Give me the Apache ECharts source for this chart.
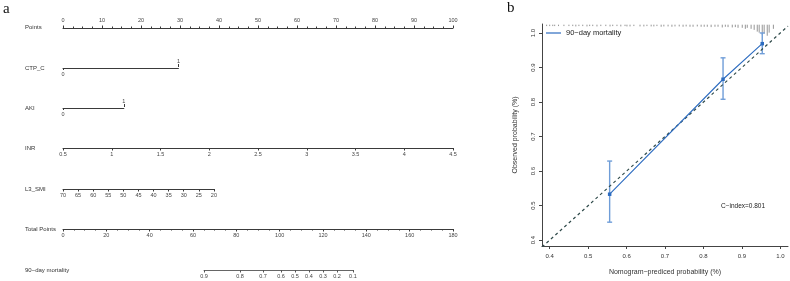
<!DOCTYPE html>
<html>
<head>
<meta charset="utf-8">
<title>Nomogram and calibration</title>
<script src="https://cdn.jsdelivr.net/npm/echarts@6/dist/echarts.min.js"></script>
<style>
    html, body { margin: 0; padding: 0; background: #fff; }
    #chart { width: 790px; height: 281px; }
</style>
</head>
<body>
<div id="chart"></div>
<script>
// ---- panel a: nomogram data ----
const pointsTicks = [0, 10, 20, 30, 40, 50, 60, 70, 80, 90, 100];
const ctpLevels = [0, 1];
const ctpPoints = [0, 29.6];
const akiLevels = [0, 1];
const akiPoints = [0, 15.6];
const inrRange = [0.5, 4.5];
const inrPoints = [0, 100];
const smiRange = [20, 70];
const smiPoints = [0, 38.7];
const totalRange = [0, 180];
const mortTicks = [0.9, 0.8, 0.7, 0.6, 0.5, 0.4, 0.3, 0.2, 0.1];
const mortTotal = [65.1, 81.7, 92.3, 100.6, 107.1, 113.5, 120.0, 126.5, 133.8];

// ---- panel b: calibration data ----
const calTicks = [0.4, 0.5, 0.6, 0.7, 0.8, 0.9, 1.0];
const calPred = [0.556, 0.851, 0.953];
const calObs = [0.533, 0.866, 0.969];
const calLow = [0.452, 0.808, 0.940];
const calHigh = [0.629, 0.928, 1.0];
const rugPred = [0.392, 0.400, 0.408, 0.413, 0.423, 0.437, 0.450, 0.460, 0.468, 0.476,
    0.486, 0.497, 0.504, 0.512, 0.523, 0.533, 0.546, 0.557, 0.564, 0.575,
    0.585, 0.596, 0.601, 0.609, 0.619, 0.635, 0.645, 0.653, 0.664, 0.671,
    0.679, 0.690, 0.697, 0.708, 0.718, 0.726, 0.737, 0.747, 0.755, 0.765,
    0.773, 0.784, 0.794, 0.802, 0.810, 0.820, 0.830, 0.838, 0.849, 0.857,
    0.864, 0.875, 0.883, 0.890, 0.901, 0.909, 0.914, 0.924, 0.932, 0.940,
    0.945, 0.953, 0.958, 0.966, 0.971, 0.982];
const rugHeight = [0.004, 0.004, 0.004, 0.004, 0.004, 0.004, 0.004, 0.004, 0.005, 0.004,
    0.004, 0.005, 0.004, 0.004, 0.005, 0.004, 0.004, 0.005, 0.004, 0.004,
    0.005, 0.004, 0.005, 0.005, 0.004, 0.005, 0.005, 0.004, 0.005, 0.005,
    0.004, 0.006, 0.005, 0.005, 0.006, 0.005, 0.005, 0.006, 0.005, 0.006,
    0.006, 0.005, 0.006, 0.006, 0.006, 0.007, 0.006, 0.006, 0.008, 0.006,
    0.007, 0.008, 0.007, 0.009, 0.009, 0.012, 0.009, 0.012, 0.015, 0.020,
    0.023, 0.029, 0.026, 0.032, 0.023, 0.012];

(function () {
    'use strict';

    const chart = echarts.init(document.getElementById('chart'), null, { renderer: 'canvas' });

    // nomogram layout: points 0..100 span this pixel range
    const X0 = 63;
    const W = 390;
    const ptsPx = p => X0 + p / 100 * W;
    const totPx = t => X0 + t / totalRange[1] * W;

    const axisColor = '#3a3a3a';
    const labelStyle = { fontSize: 5.5, color: '#444', fontFamily: 'Liberation Sans' };

    const grids = [];
    const xAxes = [];
    const yAxes = [];
    const titles = [];

    // add a thin grid with its axis line at lineY
    const addRow = (title, lineY, left, width, axes, axisAtTop) => {
        const idx = grids.length;
        grids.push({ left: left, top: axisAtTop ? lineY : lineY - 1, width: width, height: 1 });
        yAxes.push({ gridIndex: idx, show: false, min: 0, max: 1 });
        axes.forEach(a => xAxes.push(Object.assign({ gridIndex: idx }, a)));
        titles.push({
            type: 'text', left: 25, top: lineY - 3,
            style: { text: title, fontSize: 6, fill: '#333', fontFamily: 'Liberation Sans' }
        });
    };

    const baseAxis = (extra) => Object.assign({
        type: 'value',
        splitLine: { show: false },
        axisLine: { show: true, lineStyle: { color: axisColor, width: 1 } },
        axisTick: { show: true, length: 2.5, lineStyle: { color: axisColor } },
        axisLabel: Object.assign({ margin: 3 }, labelStyle)
    }, extra);

    // Points
    addRow('Points', 27, ptsPx(0), ptsPx(100) - ptsPx(0), [baseAxis({
        position: 'top', min: pointsTicks[0], max: pointsTicks[pointsTicks.length - 1], interval: 10,
        minorTick: { show: true, splitNumber: 4, length: 1.5, lineStyle: { color: axisColor } },
        axisLabel: Object.assign({ margin: 4 }, labelStyle)
    })], true);

    // two-level factor rows: "0" below left end, "1" above right end
    const factorRow = (title, lineY, levels, pts) => {
        addRow(title, lineY, ptsPx(pts[0]), ptsPx(pts[1]) - ptsPx(pts[0]), [
            baseAxis({
                position: 'bottom', min: levels[0], max: levels[1],
                axisTick: { show: true, length: 2, customValues: [levels[0]], lineStyle: { color: axisColor } },
                axisLabel: Object.assign({ margin: 3, customValues: [levels[0]] }, labelStyle)
            }),
            baseAxis({
                position: 'top', min: levels[0], max: levels[1],
                axisLine: { show: false },
                axisTick: { show: true, length: 3, customValues: [levels[1]], lineStyle: { color: axisColor } },
                axisLabel: Object.assign({ margin: 3, customValues: [levels[1]] }, labelStyle)
            })
        ], false);
    };
    factorRow('CTP_C', 68, ctpLevels, ctpPoints);
    factorRow('AKI', 108, akiLevels, akiPoints);

    // INR
    addRow('INR', 148, ptsPx(inrPoints[0]), ptsPx(inrPoints[1]) - ptsPx(inrPoints[0]), [baseAxis({
        min: inrRange[0], max: inrRange[1], interval: 0.5
    })], false);

    // L3_SMI (decreasing)
    addRow('L3_SMI', 189, ptsPx(smiPoints[0]), ptsPx(smiPoints[1]) - ptsPx(smiPoints[0]), [baseAxis({
        min: smiRange[0], max: smiRange[1], interval: 5, inverse: true
    })], false);

    // Total Points
    addRow('Total Points', 229, totPx(totalRange[0]), totPx(totalRange[1]) - totPx(totalRange[0]), [baseAxis({
        min: totalRange[0], max: totalRange[1], interval: 20,
        minorTick: { show: true, splitNumber: 4, length: 1.5, lineStyle: { color: axisColor } }
    })], false);

    // 90-day mortality (nonlinear, positions on total points)
    const mortLabel = v => {
        let best = 0;
        mortTotal.forEach((t, i) => { if (Math.abs(t - v) < Math.abs(mortTotal[best] - v)) best = i; });
        return String(mortTicks[best]);
    };
    addRow('90\u2212day mortality', 270, totPx(mortTotal[0]),
        totPx(mortTotal[mortTotal.length - 1]) - totPx(mortTotal[0]), [baseAxis({
            min: mortTotal[0], max: mortTotal[mortTotal.length - 1],
            axisLine: { show: true, lineStyle: { color: '#666', width: 1 } },
            axisTick: { show: true, length: 2.5, customValues: mortTotal, lineStyle: { color: '#555' } },
            axisLabel: Object.assign({ margin: 3, customValues: mortTotal, formatter: mortLabel }, labelStyle)
        })], false);

    // ---- panel b: calibration plot ----
    const calGrid = grids.length;
    grids.push({ left: 542, top: 24, width: 246, height: 224 });
    const calX = xAxes.length;
    xAxes.push({
        gridIndex: calGrid, type: 'value', min: 0.38, max: 1.02,
        splitLine: { show: false },
        axisLine: { show: true, lineStyle: { color: '#444' } },
        axisTick: { show: true, length: 3, customValues: calTicks, lineStyle: { color: '#444' } },
        axisLabel: { customValues: calTicks, formatter: v => v.toFixed(1), fontSize: 6, color: '#333', margin: 7, fontFamily: 'Liberation Sans' },
        name: 'Nomogram\u2212prediced probability (%)', nameLocation: 'middle', nameGap: 23,
        nameTextStyle: { fontSize: 7, color: '#333', fontFamily: 'Liberation Sans' }
    });
    const calY = yAxes.length;
    yAxes.push({
        gridIndex: calGrid, type: 'value', min: 0.383, max: 1.026,
        splitLine: { show: false },
        axisLine: { show: true, lineStyle: { color: '#444' } },
        axisTick: { show: true, length: 3, customValues: calTicks, lineStyle: { color: '#444' } },
        axisLabel: { customValues: calTicks, formatter: v => v.toFixed(1), rotate: 90, fontSize: 6, color: '#333', margin: 6, fontFamily: 'Liberation Sans' },
        name: 'Observed probability (%)', nameLocation: 'middle', nameGap: 23, nameRotate: 90,
        nameTextStyle: { fontSize: 7, color: '#333', fontFamily: 'Liberation Sans' }
    });

    const series = [
        {
            name: 'ideal', type: 'line', xAxisIndex: calX, yAxisIndex: calY,
            data: [[0.38, 0.38], [1.02, 1.02]], symbol: 'none', silent: true,
            lineStyle: { color: '#2f4a4a', width: 1.2, type: [3, 3] }
        },
        {
            name: 'rug', type: 'custom', xAxisIndex: calX, yAxisIndex: calY, silent: true,
            data: rugPred.map((p, i) => [p, rugHeight[i]]),
            renderItem: (params, api) => {
                const top = api.coord([api.value(0), 1.024]);
                const bot = api.coord([api.value(0), 1.024 - api.value(1)]);
                return {
                    type: 'line',
                    shape: { x1: top[0], y1: top[1], x2: bot[0], y2: bot[1] },
                    style: { stroke: '#7a7a7a', lineWidth: 0.8 }
                };
            }
        },
        {
            name: 'errorbars', type: 'custom', xAxisIndex: calX, yAxisIndex: calY, silent: true,
            data: calPred.map((p, i) => [p, calLow[i], calHigh[i]]),
            renderItem: (params, api) => {
                const lo = api.coord([api.value(0), api.value(1)]);
                const hi = api.coord([api.value(0), api.value(2)]);
                const cap = 2.5;
                const st = { stroke: '#6f9dd8', lineWidth: 1.4 };
                return {
                    type: 'group',
                    children: [
                        { type: 'line', shape: { x1: lo[0], y1: lo[1], x2: hi[0], y2: hi[1] }, style: st },
                        { type: 'line', shape: { x1: lo[0] - cap, y1: lo[1], x2: lo[0] + cap, y2: lo[1] }, style: st },
                        { type: 'line', shape: { x1: hi[0] - cap, y1: hi[1], x2: hi[0] + cap, y2: hi[1] }, style: st }
                    ]
                };
            }
        },
        {
            name: '90\u2212day mortality', type: 'line', xAxisIndex: calX, yAxisIndex: calY,
            data: calPred.map((p, i) => [p, calObs[i]]),
            symbol: 'rect', symbolSize: 3.5, showSymbol: true,
            itemStyle: { color: '#2d6cc0' },
            lineStyle: { color: '#2d6cc0', width: 1.1 }
        }
    ];

    const option = {
        animation: false,
        backgroundColor: '#fff',
        grid: grids,
        xAxis: xAxes,
        yAxis: yAxes,
        legend: {
            left: 546, top: 29, padding: 0,
            data: [{ name: '90\u2212day mortality', icon: 'rect' }],
            itemWidth: 15, itemHeight: 1.2, itemGap: 5,
            textStyle: { fontSize: 7.5, color: '#222', fontFamily: 'Liberation Sans' }
        },
        graphic: titles.concat([
            { type: 'text', left: 3, top: 2, style: { text: 'a', fontSize: 15, fill: '#111', fontFamily: 'Liberation Serif' } },
            { type: 'text', left: 507, top: 1, style: { text: 'b', fontSize: 15, fill: '#111', fontFamily: 'Liberation Serif' } },
            { type: 'text', left: 721, top: 203, style: { text: 'C\u2212index=0.801', fontSize: 6.5, fill: '#222', fontFamily: 'Liberation Sans' } }
        ]),
        series: series
    };

    chart.setOption(option);
})();
</script>
</body>
</html>
